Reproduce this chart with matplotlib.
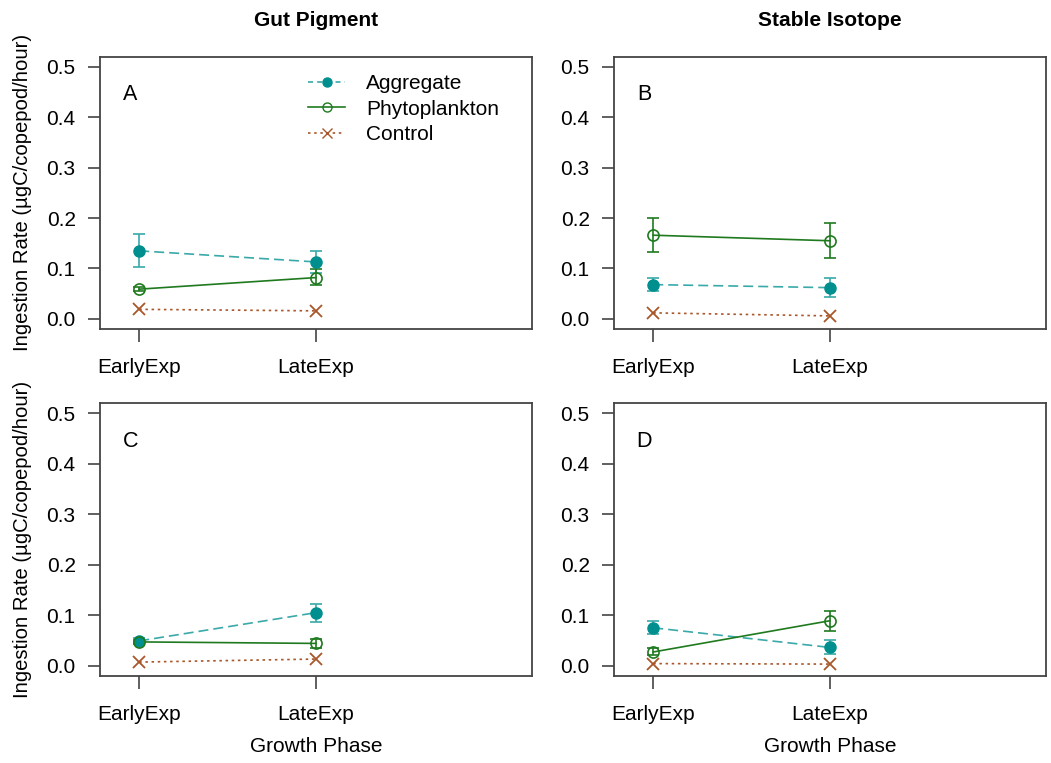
import matplotlib
matplotlib.use("Agg")
import matplotlib.pyplot as plt
from matplotlib.lines import Line2D

plt.rcParams['font.family'] = ['Liberation Sans', 'DejaVu Sans']

phases = ["EarlyExp", "LateExp"]
series = ["Aggregate", "Phytoplankton", "Control"]
panel_letters = ["A", "B", "C", "D"]
column_titles = ["Gut Pigment", "Stable Isotope"]

# values per panel: mean, lower, upper
agg_mean = {"A": [0.135, 0.113], "B": [0.068, 0.062], "C": [0.049, 0.105], "D": [0.075, 0.036]}
agg_lo = {"A": [0.102, 0.092], "B": [0.056, 0.044], "C": [0.045, 0.087], "D": [0.062, 0.023]}
agg_hi = {"A": [0.168, 0.135], "B": [0.081, 0.082], "C": [0.054, 0.122], "D": [0.089, 0.050]}

phy_mean = {"A": [0.059, 0.082], "B": [0.166, 0.155], "C": [0.047, 0.044], "D": [0.027, 0.089]}
phy_lo = {"A": [0.055, 0.068], "B": [0.133, 0.121], "C": [0.043, 0.034], "D": [0.021, 0.068]}
phy_hi = {"A": [0.063, 0.098], "B": [0.200, 0.190], "C": [0.051, 0.053], "D": [0.034, 0.109]}

ctl_mean = {"A": [0.019, 0.016], "B": [0.012, 0.006], "C": [0.007, 0.013], "D": [0.004, 0.003]}

c_agg = "#008f8f"
c_agg_line = "#3aa9a9"
c_phy = "#1f7a1f"
c_ctl = "#a8562a"

W, H = 1051, 763
fig = plt.figure(figsize=(W / 100, H / 100), dpi=100)

def px_axes(left, top, right, bottom):
    return fig.add_axes([left / W, 1 - bottom / H, (right - left) / W, (bottom - top) / H])

boxes = {
    "A": (100, 56.7, 532, 329),
    "B": (614, 56.7, 1046, 329),
    "C": (100, 403.3, 532, 675.7),
    "D": (614, 403.3, 1046, 675.7),
}

FS = 15
x = [1, 2]
spine_col = "#444444"
for key in panel_letters:
    l, t, r, b = boxes[key]
    ax = px_axes(l, t, r, b)
    ax.set_xlim(0.778, 3.222)
    ax.set_ylim(-0.02, 0.52)
    # aggregate
    am = agg_mean[key]
    ax.errorbar(x, am, yerr=[[m - lo for m, lo in zip(am, agg_lo[key])], [h - m for m, h in zip(am, agg_hi[key])]],
                fmt="none", ecolor=c_agg_line, elinewidth=1.2, capsize=4.5, capthick=1.2, zorder=2)
    ax.plot(x, am, color=c_agg_line, lw=1.2, dashes=(6, 3), zorder=2)
    ax.plot(x, am, "o", color=c_agg, ms=8, zorder=4)
    # phytoplankton
    pm = phy_mean[key]
    ax.errorbar(x, pm, yerr=[[m - lo for m, lo in zip(pm, phy_lo[key])], [h - m for m, h in zip(pm, phy_hi[key])]],
                fmt="none", ecolor=c_phy, elinewidth=1.2, capsize=4.5, capthick=1.2, zorder=2)
    ax.plot(x, pm, "-", color=c_phy, lw=1.2, zorder=3)
    ax.plot(x, pm, "o", mfc="none", mec=c_phy, mew=1.2, ms=8, zorder=4)
    # control
    cm = ctl_mean[key]
    ax.plot(x, cm, color=c_ctl, lw=1.2, dashes=(1.5, 2.2), zorder=2)
    ax.plot(x, cm, "x", color=c_ctl, ms=8, mew=1.3, zorder=4)

    ax.set_xticks(x)
    ax.set_xticklabels(phases)
    ax.set_yticks([0.0, 0.1, 0.2, 0.3, 0.4, 0.5])
    ax.set_yticklabels(["0.0", "0.1", "0.2", "0.3", "0.4", "0.5"])
    ax.tick_params(axis="both", direction="out", length=9, width=1.2, color=spine_col,
                   labelsize=FS, pad=8.5)
    ax.tick_params(axis="x", pad=12)
    for s in ax.spines.values():
        s.set_color(spine_col)
        s.set_linewidth(1.3)
    ax.text(0.95, 0.445, key, fontsize=FS + 0.5, ha="center", va="center")
    h_ax = b - t
    w_ax = r - l
    if key in ("A", "C"):
        ax.set_ylabel("Ingestion Rate (\u00b5gC/copepod/hour)", fontsize=14.6)
        ax.yaxis.label.set_va("center")
        ax.yaxis.set_label_coords((22 - l) / w_ax, 0.5)
    if key in ("C", "D"):
        ax.set_xlabel("Growth Phase", fontsize=FS)
        ax.xaxis.label.set_va("center")
        ax.xaxis.set_label_coords(0.5, (b - 747) / h_ax)
    if key == "A":
        handles = [
            Line2D([], [], color=c_agg_line, lw=1.2, dashes=(3, 2.5), marker="o", mfc=c_agg, mec=c_agg, ms=6.5),
            Line2D([], [], color=c_phy, lw=1.2, marker="o", mfc="none", mec=c_phy, ms=6.5),
            Line2D([], [], color=c_ctl, lw=1.2, dashes=(1.5, 2.2), marker="x", mec=c_ctl, ms=6.5),
        ]
        ax.legend(handles, series, loc="upper left",
                  bbox_to_anchor=((308 - l) / w_ax, 1 - (74 - t) / h_ax), frameon=False,
                  fontsize=FS, handlelength=1.78, handletextpad=1.0, labelspacing=0.32,
                  borderaxespad=0, borderpad=0)
    if key in ("A", "B"):
        fig.text((l + r) / 2 / W, 1 - 20 / H, column_titles[0] if key == "A" else column_titles[1],
                 fontsize=FS, fontweight="bold", ha="center", va="center")

fig.savefig("out.png", dpi=100)
